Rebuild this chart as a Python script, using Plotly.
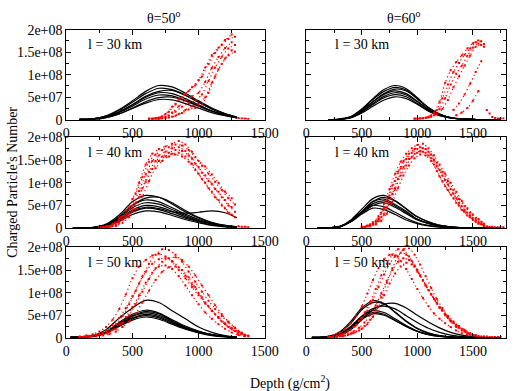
import plotly.graph_objects as go

UNIT = 1e7  # all values below are in units of 1e7 charged particles

# ---------------- theta = 50 deg, l = 30 km ----------------
A_DEPTH = [100, 200, 300, 400, 500, 600, 700, 800, 900, 1000, 1100, 1200, 1290]
A_BLACK = [
    [0.1, 0.2, 0.9, 2.3, 4.2, 6.3, 7.6, 7.3, 5.9, 4.2, 2.6, 1.4, 0.6],
    [0.1, 0.2, 0.8, 2.1, 3.9, 5.8, 7.0, 6.7, 5.5, 3.9, 2.4, 1.3, 0.6],
    [0.1, 0.2, 0.7, 1.8, 3.4, 5.2, 6.3, 6.5, 5.4, 3.9, 2.4, 1.2, 0.5],
    [0.1, 0.2, 0.7, 1.8, 3.3, 5.0, 6.0, 5.8, 4.7, 3.3, 2.0, 1.1, 0.5],
    [0.1, 0.2, 0.6, 1.6, 3.0, 4.6, 5.5, 5.3, 4.3, 3.1, 1.9, 1.0, 0.4],
    [0.1, 0.1, 0.5, 1.3, 2.6, 4.0, 4.9, 5.0, 4.2, 3.0, 1.9, 1.0, 0.5],
    [0.1, 0.1, 0.5, 1.3, 2.5, 3.7, 4.5, 4.4, 3.6, 2.6, 1.6, 0.9, 0.4],
]
# red showers: (first depth, depth step, values)
A_RED = [
    (650, 50, [0.3, 0.5, 1.3, 2.9, 4.6, 5.8, 7.2, 8.8, 11.6, 14.3, 16.0, 17.7, 18.9]),
    (625, 50, [0.3, 0.4, 0.8, 1.8, 3.4, 5.0, 6.4, 7.6, 9.6, 12.4, 14.8, 16.6, 17.9, 18.4]),
    (650, 50, [0.2, 0.3, 0.7, 1.6, 3.0, 4.3, 5.2, 6.0, 8.4, 11.5, 13.9, 15.9, 17.2]),
    (625, 50, [0.2, 0.3, 0.4, 0.9, 1.8, 2.9, 3.7, 4.3, 5.6, 8.6, 11.6, 14.0, 15.8, 16.6]),
    (650, 50, [0.2, 0.2, 0.4, 0.7, 1.3, 2.2, 3.0, 3.5, 5.0, 8.2, 11.2, 13.6, 15.4]),
    (625, 50, [0.2, 0.2, 0.3, 0.5, 0.9, 1.5, 2.3, 2.6, 3.4, 6.0, 9.6, 12.4, 14.3, 15.1]),
    (1300, 25, [0.4, 0.3, 0.3, 0.2]),
]

# ---------------- theta = 60 deg, l = 30 km ----------------
B_DEPTH = [200, 300, 400, 500, 600, 700, 800, 900, 1000, 1100, 1200, 1300, 1400, 1500, 1600, 1750]
B_BLACK = [
    [0.0, 0.2, 0.7, 2.4, 4.7, 6.7, 7.6, 6.9, 4.9, 2.7, 1.3, 0.5, 0.2, 0.1, 0.0, 0.0],
    [0.0, 0.1, 0.6, 2.3, 4.5, 6.3, 7.2, 6.6, 4.6, 2.6, 1.2, 0.5, 0.2, 0.1, 0.0, 0.0],
    [0.0, 0.1, 0.6, 2.0, 4.0, 5.8, 6.8, 6.4, 4.7, 2.7, 1.3, 0.5, 0.2, 0.1, 0.0, 0.0],
    [0.0, 0.1, 0.6, 2.1, 4.0, 5.6, 6.4, 5.8, 4.1, 2.3, 1.1, 0.4, 0.2, 0.1, 0.0, 0.0],
    [0.0, 0.1, 0.5, 1.8, 3.6, 5.2, 6.0, 5.5, 4.0, 2.2, 1.0, 0.4, 0.2, 0.1, 0.0, 0.0],
    [0.0, 0.1, 0.5, 1.7, 3.4, 4.9, 5.6, 5.1, 3.6, 2.0, 1.0, 0.4, 0.2, 0.1, 0.0, 0.0],
    [0.0, 0.1, 0.4, 1.5, 3.0, 4.4, 5.1, 4.7, 3.4, 1.9, 0.9, 0.4, 0.1, 0.0, 0.0, 0.0],
]
B_RED = [
    (1000, 50, [0.3, 0.4, 0.7, 1.6, 4.0, 8.2, 11.0, 12.8, 14.3, 15.8, 17.0, 17.6, 16.8]),
    (975, 50, [0.3, 0.3, 0.5, 1.0, 2.2, 4.8, 7.8, 10.6, 12.6, 14.4, 15.8, 17.2, 17.4]),
    (1000, 50, [0.2, 0.3, 0.5, 1.0, 2.4, 4.8, 7.8, 10.2, 12.0, 14.2, 16.0, 16.9, 16.2]),
    (975, 50, [0.2, 0.3, 0.4, 0.7, 1.2, 2.4, 4.4, 7.2, 9.6, 12.0, 14.2, 16.2, 16.6]),
    (1325, 50, [2.2, 3.6, 5.6, 8.0, 10.6, 13.0]),
    (1350, 50, [1.0, 1.6, 2.6, 4.2, 6.4]),
    (1625, 25, [2.2, 1.4, 0.6, 0.4, 0.3, 0.3, 0.3]),
]

# ---------------- theta = 50 deg, l = 40 km ----------------
C_DEPTH = [50, 100, 200, 300, 400, 500, 600, 700, 800, 900, 1000, 1100, 1200, 1290]
C_BLACK = [
    [0.1, 0.1, 0.2, 0.9, 2.9, 5.8, 7.2, 6.8, 5.3, 3.6, 2.2, 1.2, 0.6, 0.3],
    [0.1, 0.1, 0.1, 0.7, 2.4, 5.0, 6.6, 6.8, 5.6, 3.9, 2.4, 1.3, 0.6, 0.3],
    [0.1, 0.1, 0.1, 0.7, 2.5, 5.0, 6.2, 5.8, 4.5, 3.1, 1.9, 1.1, 0.5, 0.3],
    [0.1, 0.1, 0.1, 0.7, 2.2, 4.5, 5.6, 5.3, 4.1, 2.8, 1.7, 1.0, 0.5, 0.2],
    [0.1, 0.1, 0.1, 0.6, 2.0, 4.0, 5.0, 4.7, 3.7, 2.5, 1.6, 0.9, 0.4, 0.2],
    [0.1, 0.1, 0.1, 0.5, 1.8, 3.5, 4.4, 4.1, 3.2, 2.2, 1.4, 0.7, 0.4, 0.2],
    [0.1, 0.1, 0.1, 0.5, 1.5, 3.0, 3.8, 3.6, 2.8, 1.9, 1.2, 0.6, 0.3, 0.2],
    [0.1, 0.1, 0.1, 0.6, 1.9, 3.8, 4.6, 4.3, 3.6, 3.3, 3.5, 3.8, 3.4, 2.3],
]
C_RED = [
    (250, 50, [0.2, 0.4, 1.0, 2.2, 4.0, 6.4, 10.0, 14.0, 16.4, 17.4, 18.0, 18.6, 19.2, 18.4, 16.8, 14.8, 13.6, 11.8, 10.0, 8.0, 6.6]),
    (275, 50, [0.2, 0.5, 1.2, 2.6, 4.6, 7.6, 11.2, 14.6, 16.2, 17.2, 17.8, 18.4, 18.2, 17.2, 15.6, 13.8, 12.0, 10.2, 8.4, 6.6, 5.2]),
    (250, 50, [0.1, 0.3, 0.7, 1.6, 3.0, 5.0, 8.2, 11.8, 14.8, 16.0, 16.8, 17.6, 17.8, 17.0, 15.4, 13.4, 11.6, 9.8, 8.0, 6.2, 4.6]),
    (275, 50, [0.1, 0.3, 0.8, 1.8, 3.2, 5.6, 8.8, 12.4, 14.8, 15.8, 16.6, 17.2, 17.0, 16.0, 14.2, 12.2, 10.4, 8.6, 6.8, 5.0, 3.6]),
    (250, 50, [0.1, 0.2, 0.5, 1.2, 2.4, 4.0, 6.8, 10.2, 13.0, 14.8, 15.8, 16.4, 16.6, 15.8, 14.2, 12.0, 10.0, 8.0, 6.2, 4.4, 3.0]),
    (275, 50, [0.1, 0.2, 0.5, 1.2, 2.4, 4.2, 7.0, 10.4, 13.2, 14.8, 15.8, 16.2, 15.8, 14.6, 12.8, 10.8, 8.8, 6.8, 5.0, 3.4, 2.4]),
    (1300, 25, [0.4, 0.3, 0.3, 0.2]),
]

# ---------------- theta = 60 deg, l = 40 km ----------------
D_DEPTH = [100, 200, 300, 400, 500, 600, 700, 800, 900, 1000, 1100, 1200, 1300, 1400, 1500, 1600, 1750]
D_BLACK = [
    [0.0, 0.1, 0.4, 1.8, 4.2, 6.5, 7.2, 6.0, 4.2, 2.5, 1.4, 0.6, 0.3, 0.1, 0.1, 0.0, 0.0],
    [0.0, 0.1, 0.3, 1.4, 3.6, 5.9, 6.8, 6.0, 4.3, 2.5, 1.4, 0.7, 0.3, 0.1, 0.1, 0.0, 0.0],
    [0.0, 0.1, 0.3, 1.6, 3.7, 5.8, 6.4, 5.2, 3.7, 2.0, 1.1, 0.5, 0.3, 0.1, 0.0, 0.0, 0.0],
    [0.0, 0.1, 0.3, 1.5, 3.5, 5.4, 6.0, 4.9, 3.5, 1.9, 1.1, 0.5, 0.2, 0.1, 0.0, 0.0, 0.0],
    [0.0, 0.1, 0.3, 1.4, 3.2, 5.0, 5.6, 4.6, 3.2, 1.8, 1.0, 0.5, 0.2, 0.1, 0.0, 0.0, 0.0],
    [0.0, 0.1, 0.4, 1.6, 3.6, 5.0, 4.7, 3.5, 2.2, 1.2, 0.6, 0.3, 0.1, 0.0, 0.0, 0.0, 0.0],
    [0.0, 0.1, 0.3, 1.4, 3.1, 4.4, 4.1, 3.0, 1.8, 1.0, 0.5, 0.2, 0.1, 0.0, 0.0, 0.0, 0.0],
]
D_RED = [
    (500, 50, [0.3, 0.6, 1.3, 2.6, 5.4, 8.6, 12.0, 14.6, 16.4, 17.6, 18.3, 18.6, 17.6, 16.0, 14.0, 12.0, 10.0, 8.0, 6.0, 4.4, 3.0, 2.0, 1.0]),
    (525, 50, [0.3, 0.8, 1.6, 3.4, 6.2, 9.4, 12.4, 14.8, 16.4, 17.4, 17.8, 17.4, 16.2, 14.4, 12.4, 10.4, 8.4, 6.4, 4.8, 3.4, 2.2, 1.4]),
    (500, 50, [0.2, 0.5, 1.0, 2.0, 4.2, 7.2, 10.4, 13.2, 15.2, 16.6, 17.4, 17.6, 16.8, 15.0, 12.8, 10.6, 8.6, 6.6, 4.8, 3.4, 2.2, 1.3, 0.7]),
    (525, 50, [0.2, 0.6, 1.2, 2.4, 4.6, 7.6, 10.8, 13.4, 15.2, 16.4, 17.0, 16.6, 15.4, 13.6, 11.6, 9.6, 7.6, 5.6, 4.0, 2.8, 1.8, 1.0]),
    (500, 50, [0.2, 0.4, 0.8, 1.6, 3.0, 5.6, 8.6, 11.6, 13.8, 15.6, 16.6, 16.8, 16.0, 14.0, 11.4, 9.2, 7.4, 5.6, 4.0, 2.8, 1.8, 1.0, 0.5]),
    (525, 50, [0.2, 0.4, 0.8, 1.6, 3.2, 5.8, 8.8, 11.6, 13.8, 15.4, 16.2, 16.0, 14.8, 12.6, 10.4, 8.4, 6.6, 5.0, 3.6, 2.4, 1.4, 0.8]),
    (1625, 25, [0.4, 0.3, 0.3, 0.2, 0.2, 0.2, 0.2]),
]

# ---------------- theta = 50 deg, l = 50 km ----------------
E_DEPTH = [30, 100, 200, 300, 400, 500, 600, 700, 800, 900, 1000, 1100, 1200, 1290]
E_BLACK = [
    [0.1, 0.2, 0.5, 1.8, 4.4, 6.6, 8.3, 7.8, 6.0, 4.2, 2.4, 1.2, 0.5, 0.2],
    [0.1, 0.2, 0.4, 1.3, 3.4, 5.2, 6.1, 5.5, 4.0, 2.6, 1.5, 0.7, 0.3, 0.1],
    [0.1, 0.2, 0.4, 1.3, 3.2, 4.9, 5.8, 5.3, 3.8, 2.4, 1.4, 0.7, 0.3, 0.1],
    [0.1, 0.2, 0.4, 1.2, 3.0, 4.7, 5.5, 5.0, 3.6, 2.3, 1.3, 0.7, 0.3, 0.1],
    [0.1, 0.2, 0.4, 1.1, 2.9, 4.4, 5.2, 4.7, 3.4, 2.2, 1.2, 0.6, 0.3, 0.1],
    [0.1, 0.1, 0.3, 1.1, 2.7, 4.2, 4.9, 4.4, 3.2, 2.1, 1.2, 0.6, 0.2, 0.1],
    [0.1, 0.1, 0.3, 1.0, 2.5, 3.9, 4.6, 4.1, 3.0, 1.9, 1.1, 0.5, 0.2, 0.1],
]
E_RED = [
    (100, 50, [0.3, 0.5, 0.8, 1.4, 2.4, 4.0, 6.4, 9.6, 13.2, 15.8, 17.2, 18.2, 18.6, 18.0, 16.8, 15.0, 13.2, 11.2, 9.4, 7.6, 6.0, 4.6, 3.2, 2.2, 1.4, 0.6]),
    (125, 50, [0.2, 0.4, 0.6, 1.0, 1.8, 3.0, 4.8, 7.4, 10.4, 13.6, 16.4, 18.4, 19.6, 19.4, 18.4, 16.8, 14.6, 12.4, 10.2, 8.2, 6.4, 4.8, 3.4, 2.2, 1.0, 0.4]),
    (100, 50, [0.2, 0.3, 0.5, 0.9, 1.6, 2.8, 4.4, 6.6, 9.2, 12.0, 14.6, 16.4, 17.4, 17.6, 17.0, 15.6, 13.8, 11.8, 9.8, 7.8, 6.0, 4.4, 3.0, 1.9, 1.0, 0.4]),
    (125, 50, [0.2, 0.2, 0.4, 0.7, 1.2, 2.0, 3.2, 5.0, 7.4, 10.2, 13.0, 15.4, 16.8, 17.6, 17.8, 17.2, 15.8, 13.8, 11.6, 9.4, 7.2, 5.2, 3.6, 2.2, 1.2, 0.5]),
    (100, 50, [0.2, 0.2, 0.3, 0.6, 1.0, 1.8, 3.0, 4.6, 6.8, 9.4, 12.2, 14.4, 15.8, 16.0, 15.2, 13.6, 11.6, 9.4, 7.4, 5.6, 4.2, 3.0, 2.0, 1.2, 0.6, 0.3]),
    (125, 50, [0.1, 0.2, 0.3, 0.5, 0.8, 1.4, 2.4, 3.6, 5.4, 7.8, 10.4, 12.8, 14.6, 15.6, 15.8, 15.0, 13.4, 11.2, 9.0, 7.0, 5.2, 3.6, 2.4, 1.5, 0.8, 0.3]),
]

# ---------------- theta = 60 deg, l = 50 km ----------------
F_DEPTH = [50, 100, 200, 300, 400, 500, 600, 700, 800, 900, 1000, 1100, 1200, 1300, 1400, 1500, 1600, 1750]
F_BLACK = [
    [0.1, 0.1, 0.3, 1.3, 3.6, 6.6, 8.2, 7.6, 5.6, 3.6, 2.0, 1.0, 0.5, 0.2, 0.1, 0.0, 0.0, 0.0],
    [0.1, 0.1, 0.3, 1.1, 3.2, 6.2, 7.8, 7.5, 5.7, 3.7, 2.1, 1.1, 0.5, 0.2, 0.1, 0.0, 0.0, 0.0],
    [0.0, 0.0, 0.1, 0.5, 1.8, 4.0, 6.2, 7.4, 7.6, 6.6, 5.0, 3.5, 2.2, 1.2, 0.6, 0.3, 0.1, 0.0],
    [0.0, 0.0, 0.2, 0.7, 2.4, 4.8, 6.5, 7.0, 6.4, 4.9, 3.4, 2.1, 1.2, 0.6, 0.3, 0.1, 0.0, 0.0],
    [0.1, 0.1, 0.2, 0.8, 2.5, 4.7, 6.0, 5.6, 4.2, 2.7, 1.5, 0.8, 0.4, 0.2, 0.1, 0.0, 0.0, 0.0],
    [0.1, 0.1, 0.2, 0.8, 2.3, 4.4, 5.6, 5.2, 3.9, 2.5, 1.4, 0.7, 0.3, 0.1, 0.0, 0.0, 0.0, 0.0],
    [0.1, 0.1, 0.2, 0.7, 2.1, 4.1, 5.3, 5.0, 3.8, 2.5, 1.4, 0.7, 0.3, 0.1, 0.0, 0.0, 0.0, 0.0],
]
F_RED = [
    (200, 50, [0.3, 0.6, 1.2, 2.0, 3.2, 4.8, 7.0, 9.8, 12.8, 15.4, 17.4, 18.4, 18.2, 17.0, 15.2, 13.0, 10.8, 8.8, 7.0, 5.4, 4.2, 3.2, 2.4, 1.6, 1.0, 0.6, 0.4]),
    (225, 50, [0.2, 0.4, 0.8, 1.4, 2.4, 3.8, 5.6, 8.0, 10.8, 13.8, 16.4, 18.4, 19.6, 19.4, 18.0, 16.0, 13.8, 11.6, 9.6, 7.8, 6.2, 4.8, 3.6, 2.6, 1.8, 1.0, 0.6]),
    (200, 50, [0.2, 0.3, 0.6, 1.0, 1.8, 2.8, 4.2, 6.0, 8.4, 11.2, 14.0, 16.4, 18.0, 18.8, 18.4, 17.0, 15.0, 12.8, 10.6, 8.6, 6.8, 5.2, 3.8, 2.8, 2.0, 1.2, 0.6]),
    (225, 50, [0.1, 0.2, 0.4, 0.8, 1.4, 2.2, 3.4, 5.0, 7.2, 9.8, 12.6, 15.0, 16.8, 17.6, 17.2, 15.8, 13.8, 11.6, 9.6, 7.6, 6.0, 4.4, 3.2, 2.2, 1.4, 0.8, 0.4]),
    (200, 50, [0.1, 0.2, 0.3, 0.5, 0.9, 1.4, 2.0, 3.0, 4.6, 6.8, 9.4, 12.0, 14.2, 15.8, 16.6, 16.2, 14.6, 12.6, 10.6, 8.6, 6.6, 5.0, 3.6, 2.4, 1.6, 1.0, 0.5]),
    (225, 50, [0.1, 0.2, 0.3, 0.6, 1.0, 1.6, 2.6, 4.0, 6.2, 9.0, 12.2, 15.4, 18.0, 19.6, 19.8, 18.4, 16.2, 13.6, 11.0, 8.6, 6.6, 4.8, 3.4, 2.4, 1.6, 0.9, 0.5]),
    (1550, 25, [0.4, 0.3, 0.3, 0.3, 0.2, 0.2, 0.2, 0.2, 0.2]),
]

PANEL_LABELS = ["l = 30 km", "l = 30 km", "l = 40 km", "l = 40 km", "l = 50 km", "l = 50 km"]
COLUMN_TITLES = ["θ=50<sup>o</sup>", "θ=60<sup>o</sup>"]
X_RANGES = [1500, 1800]
X_TICKS = [0, 500, 1000, 1500]
Y_TICKS = [0, 5e7, 1e8, 1.5e8, 2e8]
Y_TICKTEXT = ["0", "5e+07", "1e+08", "1.5e+08", "2e+08"]

# ---------------- layout geometry (pixels) ----------------
W, H = 526, 391
COL_PX = [(64.5, 270.0), (313.0, 520.0)]
ROW_PX = [(23.5, 117.3), (135.5, 230.0), (250.0, 344.0)]
FONT = "Liberation Serif"
FS = 14


def fx(p):
    return p / W


def fy(p):
    return 1 - p / H


panels = [
    (A_DEPTH, A_BLACK, A_RED),
    (B_DEPTH, B_BLACK, B_RED),
    (C_DEPTH, C_BLACK, C_RED),
    (D_DEPTH, D_BLACK, D_RED),
    (E_DEPTH, E_BLACK, E_RED),
    (F_DEPTH, F_BLACK, F_RED),
]

fig = go.Figure()
layout = dict(
    width=W, height=H, margin=dict(l=0, r=0, t=0, b=0),
    paper_bgcolor="white", plot_bgcolor="white", showlegend=False,
    font=dict(family=FONT, size=FS, color="black"),
)
annotations = []

for i, (depth, blacks, reds) in enumerate(panels):
    row, col = divmod(i, 2)
    n = i + 1
    xa = "x" if n == 1 else f"x{n}"
    ya = "y" if n == 1 else f"y{n}"
    for curve in blacks:
        fig.add_trace(go.Scatter(
            x=depth, y=[v * UNIT for v in curve], mode="lines",
            line=dict(color="black", width=1.2, shape="spline", smoothing=0.9),
            xaxis=xa, yaxis=ya, hoverinfo="skip"))
    for start, step, vals in reds:
        fig.add_trace(go.Scatter(
            x=[start + k * step for k in range(len(vals))],
            y=[v * UNIT for v in vals], mode="lines+markers",
            line=dict(color="red", width=1.2, dash="1.2px,2.8px", shape="spline", smoothing=0.6),
            marker=dict(color="red", size=2, symbol="square", line=dict(width=0)),
            xaxis=xa, yaxis=ya, hoverinfo="skip"))

    x0, x1 = COL_PX[col]
    y0, y1 = ROW_PX[row]
    axis_common = dict(
        showline=True, linecolor="black", linewidth=1, mirror="allticks",
        ticks="inside", ticklen=5, tickwidth=1, tickcolor="black",
        showgrid=False, zeroline=False,
        tickfont=dict(family=FONT, size=FS, color="black"),
    )
    layout["xaxis" if n == 1 else f"xaxis{n}"] = dict(
        axis_common, domain=[fx(x0), fx(x1)], range=[0, X_RANGES[col]],
        tickmode="array", tickvals=X_TICKS, anchor=ya,
        minor=dict(ticks="inside", ticklen=3, tickcolor="black", dtick=250, tick0=0, showgrid=False),
    )
    layout["yaxis" if n == 1 else f"yaxis{n}"] = dict(
        axis_common, domain=[fy(y1), fy(y0)], range=[0, 2e8],
        tickmode="array", tickvals=Y_TICKS, ticktext=Y_TICKTEXT, anchor=xa,
        showticklabels=(col == 0),
        minor=dict(ticks="inside", ticklen=3, tickcolor="black", dtick=2.5e7, tick0=0, showgrid=False),
    )
    annotations.append(dict(
        text=PANEL_LABELS[i], xref="paper", yref="paper",
        x=fx(85 if col == 0 else 340.5), y=fy(y0 + 16), xanchor="left", yanchor="middle",
        showarrow=False, font=dict(family=FONT, size=FS, color="black")))

for col in range(2):
    x0, x1 = COL_PX[col]
    annotations.append(dict(
        text=COLUMN_TITLES[col], xref="paper", yref="paper",
        x=fx((x0 + x1) / 2 - 2), y=fy(10), xanchor="center", yanchor="middle",
        showarrow=False, font=dict(family=FONT, size=FS, color="black")))

annotations.append(dict(
    text="Charged Particle's Number", xref="paper", yref="paper",
    x=fx(8), y=fy(182), xanchor="center", yanchor="middle", textangle=-90,
    showarrow=False, font=dict(family=FONT, size=14, color="black")))
annotations.append(dict(
    text="Depth (g/cm<sup>2</sup>)", xref="paper", yref="paper",
    x=fx(296), y=fy(390), xanchor="center", yanchor="middle",
    showarrow=False, font=dict(family=FONT, size=FS, color="black")))

layout["annotations"] = annotations
fig.update_layout(**layout)
fig.write_html("out.html")
